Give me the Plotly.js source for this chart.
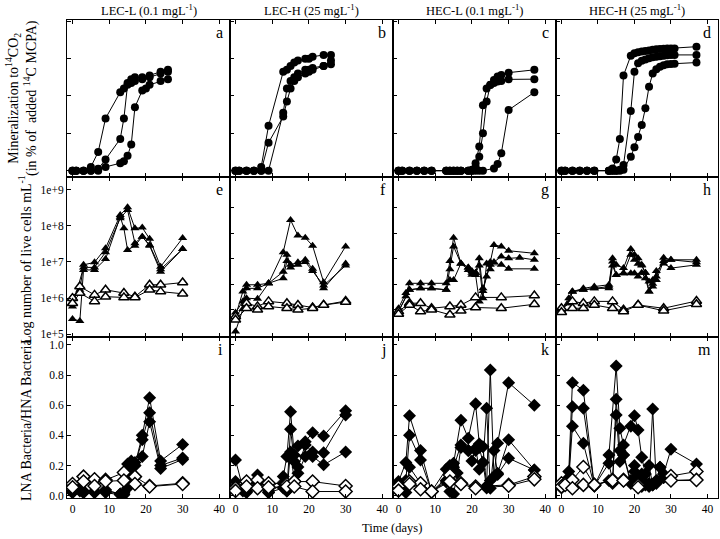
<!DOCTYPE html>
<html><head><meta charset="utf-8">
<script src="https://cdn.plot.ly/plotly-3.0.1.min.js"></script>
<style>html,body{margin:0;padding:0;background:#fff}#chart{width:720px;height:539px}</style>
</head><body><div id="chart"></div>
<script>
// ---------- Row 1: mineralization (% of added 14C MCPA) ----------
const aDays12 = [0,1,3,5,7,9,13,14,15,16,17,19,21,24,26];
const aMin1 = [0,0,0,2,10,28,42,44,47,49,50,50,51,53,54];
const aMin2 = [0,0,0,0,1,6,17,28,46,47,48,49,50,52,53];
const aDays3 = [0,1,3,5,7,9,13,14,15,16,17,19,20,21,24,26];
const aMin3 = [0,0,0,0,0,2,4,5,8,14,34,43,44,46,48,49];

const bDays = [0,1,3,5,7,9,13,14,15,16,17,19,20,21,24,26];
const bMin1 = [0,0,0,0,2,24,53,54,56,58,59,60,60,61,62,62];
const bMin2 = [0,0,0,0,0,15,29,37,44,48,50,52,53,54,56,59];
const bMin3 = [0,0,0,0,0,0,31,44,48,50,52,54,54,55,56,57];

const cDays12 = [0,1,3,5,7,9,13,14,15,16,17,19,20,21,22,23,24,25,26,27,28,30,37];
const cMin1 = [0,0,0,0,0,0,0,0,0,0,0,0,0.5,4,13,35,44,46,48.6,50.4,51.3,52.5,54];
const cMin2 = [0,0,0,0,0,0,0,0,0,0,0,0,0,2,7.5,20,37,45.9,47,47.7,48,48.9,49];
const cDays3 = [0,1,3,5,7,9,13,14,15,16,17,19,20,21,22,23,26,27,28,30,37];
const cMin3 = [0,0,0,0,0,0,0,0,0,0,0,0,0,0,0,0,1.2,3.6,9.3,32.5,42];

const dDays = [0,1,3,5,7,9,13,14,15,16,17,19,20,21,22,23,24,25,26,27,28,29,30,31,37];
const dMin1 = [0,0,0,0,0,0,0,1.2,6,17,51,61.6,62.9,63.4,63.8,64.1,64.4,64.7,65,65.2,65.3,65.4,65.5,65.5,66.4];
const dMin2 = [0,0,0,0,0,0,0,0,0,0.5,3,32,53,57.5,58.9,59.6,60.2,60.7,61,61.3,61.6,61.8,62,62,62];
const dMin3 = [0,0,0,0,0,0,0,0,0,0,0.5,7.5,12.5,18,24.5,33.4,45,52,54.3,55.7,56.5,57,57.1,57.3,57.9];

// ---------- Row 2: log10 live cells per mL ----------
const eDays1 = [0,2,3,6,9,13,15,17,19,21,24,30];
const eLog1 = [6.04,6.23,6.92,6.99,7.38,8.30,8.51,7.93,7.95,7.64,6.87,7.66];
const eDays2 = [0,3,6,9,13,15,17,19,21,24,30];
const eLog2 = [5.77,6.85,6.85,7.27,8.21,8.44,7.52,7.70,7.47,6.80,7.36];
const eDays3 = [0,2,3,6,9,13,14,15,17,19,21,24,30];
const eLog3 = [5.42,5.37,6.78,6.78,7.08,8.25,7.93,7.33,7.45,7.70,7.45,6.73,7.36];
const eoDays = [0,2,6,9,14,17,21,24,30];
const eoLog1 = [6.00,6.32,6.09,6.23,6.14,6.04,6.37,6.37,6.43];
const eoLog2 = [5.86,6.14,5.91,6.04,6.02,6.02,6.23,6.18,6.12];

const fDays1 = [0,2,3,6,9,13,15,17,19,21,24,30];
const fLog1 = [5.50,6.18,6.37,6.37,6.41,7.27,8.16,7.73,7.67,7.45,6.44,7.43];
const fDays23 = [0,2,3,6,9,13,14,15,17,19,21,24,30];
const fLog2 = [5.60,5.91,6.27,6.27,6.41,6.73,7.20,6.92,6.99,7.06,6.81,6.27,6.96];
const fLog3 = [5.08,5.70,6.00,5.98,6.41,6.55,7.03,6.85,6.92,7.00,6.75,6.35,6.90];
const foDays = [0,3,6,9,14,17,21,24,30];
const foLog1 = [5.49,5.86,5.77,5.91,5.86,5.81,5.74,5.81,5.92];
const foLog2 = [5.40,5.72,5.68,5.77,5.72,5.68,5.72,5.81,5.89];

const gDays1 = [0,2,3,6,9,13,14,15,17,19,20,21,22,23,25,26,28,30,37];
const gLog1 = [5.72,6.14,6.41,6.41,6.41,6.41,7.03,7.67,6.96,6.85,6.70,6.70,7.10,6.20,7.00,7.47,7.43,7.31,7.24];
const gDays2 = [0,2,3,6,9,13,14,15,17,19,20,21,22,23,24,25,26,28,30,33,37];
const gLog2 = [5.63,6.05,6.23,6.27,6.27,6.23,6.80,7.43,6.96,6.85,6.75,6.70,6.90,6.00,6.96,6.80,7.00,7.15,7.10,7.12,7.06];
const gDays3 = [0,3,6,9,13,14,15,17,19,20,21,22,23,24,25,28,30,37];
const gLog3 = [5.63,6.23,6.27,6.27,6.23,6.50,6.50,6.96,6.78,6.65,6.64,5.91,6.27,6.60,6.92,6.92,6.81,6.81];
const goDays = [0,3,6,9,14,17,21,28,37];
const goLog1 = [5.63,5.86,5.86,5.72,5.77,5.81,6.02,6.02,6.07];
const goLog2 = [5.56,5.81,5.63,5.68,5.54,5.65,5.74,5.72,5.83];

const hDays = [0,2,3,6,9,13,14,15,17,19,20,21,22,23,24,25,26,28,30,37];
const hLog1 = [5.74,5.86,6.18,6.27,6.32,6.37,7.10,6.92,6.83,7.36,7.20,7.10,6.92,6.70,6.46,6.50,6.60,7.12,7.06,7.06];
const hLog2 = [5.68,6.00,6.18,6.23,6.27,6.32,7.01,6.64,6.69,7.20,7.06,6.95,6.90,6.70,6.18,6.32,6.50,7.03,7.06,6.99];
const hLog3 = [5.68,5.86,6.18,6.23,6.27,6.27,6.90,6.64,6.69,6.69,6.69,6.60,6.70,6.55,6.18,6.40,6.75,6.96,6.83,6.92];
const hoDays = [0,3,6,9,14,17,21,28,37];
const hoLog1 = [5.72,5.91,5.86,5.91,5.91,5.68,5.81,5.72,5.92];
const hoLog2 = [5.61,5.72,5.72,5.81,5.72,5.63,5.81,5.65,5.83];

// ---------- Row 3: LNA/HNA ratio ----------
const iDays = [0,2,3,6,9,13,14,15,16,17,19,21,24,30];
const iRat1 = [0.02,0.038,0.03,0.03,0.038,0.01,0.02,0.21,0.23,0.20,0.40,0.65,0.23,0.34];
const iRat2 = [0.02,0.03,0.02,0.02,0.03,0.01,0.01,0.10,0.15,0.20,0.37,0.55,0.20,0.25];
const iRat3 = [0.03,0.04,0.02,0.02,0.02,0.005,0.005,0.05,0.18,0.22,0.26,0.49,0.18,0.24];
const ioDays = [0,3,6,9,14,17,21,30];
const ioRat1 = [0.077,0.126,0.108,0.104,0.153,0.126,0.064,0.082];
const ioRat2 = [0.055,0.093,0.064,0.095,0.10,0.077,0.060,0.077];

const jDays = [0,2,3,6,9,13,14,15,16,17,19,21,24,30];
const jRat1 = [0.237,0.05,0.03,0.137,0.03,0.126,0.26,0.557,0.27,0.33,0.358,0.418,0.396,0.564];
const jRat2 = [0.093,0.04,0.027,0.10,0.02,0.08,0.031,0.44,0.226,0.19,0.336,0.29,0.285,0.535];
const jRat3 = [0.06,0.03,0.02,0.08,0.02,0.05,0.03,0.29,0.10,0.148,0.26,0.26,0.204,0.29];
const joDays = [0,3,6,9,14,16,21,30];
const joRat1 = [0.05,0.093,0.104,0.082,0.077,0.093,0.093,0.064];
const joRat2 = [0.031,0.06,0.049,0.055,0.06,0.06,0.027,0.027];

const kDays1 = [0,2,3,6,9,13,14,15,17,19,21,22,23,24,25,26,27,30,37];
const kRat1 = [0.093,0.22,0.53,0.30,0.027,0.175,0.20,0.215,0.50,0.38,0.61,0.343,0.325,0.064,0.834,0.126,0.347,0.75,0.60];
const kDays2 = [0,2,3,6,9,13,14,15,17,19,20,21,22,23,24,25,26,27,30,37];
const kRat2 = [0.077,0.10,0.40,0.237,0.027,0.10,0.027,0.188,0.336,0.30,0.23,0.314,0.175,0.22,0.58,0.049,0.30,0.148,0.37,0.17];
const kDays3 = [0,2,3,6,9,13,15,16,17,19,21,22,23,24,25,27,30,37];
const kRat3 = [0.06,0.02,0.188,0.082,0.027,0.09,0.01,0.15,0.32,0.30,0.30,0.32,0.22,0.05,0.10,0.14,0.248,0.17];
const koDays = [0,3,6,9,14,17,21,30,37];
const koRat1 = [0.06,0.093,0.082,0.027,0.137,0.082,0.06,0.071,0.126];
const koRat2 = [0.033,0.077,0.042,0.027,0.093,0.077,0.049,0.065,0.108];

const mDays1 = [0,2,3,6,9,13,15,16,17,19,20,21,22,23,24,25,26,27,28,30,37];
const mRat1 = [0.08,0.16,0.75,0.70,0.064,0.27,0.86,0.447,0.336,0.46,0.53,0.436,0.254,0.144,0.08,0.575,0.08,0.188,0.144,0.307,0.21];
const mDays2 = [0,2,3,6,9,13,14,15,16,17,19,20,21,22,23,24,25,26,27,28,30,37];
const mRat2 = [0.07,0.12,0.59,0.58,0.064,0.215,0.10,0.64,0.30,0.27,0.08,0.20,0.12,0.144,0.08,0.20,0.07,0.10,0.188,0.12,0.10,0.104];
const mDays3 = [0,2,3,6,9,13,14,15,16,17,19,20,21,22,23,24,25,26,28,30,37];
const mRat3 = [0.05,0.10,0.46,0.347,0.064,0.10,0.08,0.535,0.226,0.27,0.10,0.16,0.10,0.06,0.07,0.06,0.07,0.09,0.12,0.10,0.10];
const moDays = [0,1,3,6,9,14,17,21,30,37];
const moRat1 = [0.082,0.08,0.104,0.19,0.071,0.104,0.104,0.071,0.13,0.16];
const moRat2 = [0.06,0.07,0.049,0.071,0.071,0.10,0.10,0.055,0.10,0.104];

// ---------- labels ----------
const colTitles = ['LEC-L (0.1 mgL<sup>-1</sup>)','LEC-H (25 mgL<sup>-1</sup>)','HEC-L (0.1 mgL<sup>-1</sup>)','HEC-H (25 mgL<sup>-1</sup>)'];
const panelLetters = ['a','b','c','d','e','f','g','h','i','j','k','m'];
const xTicks = [0,10,20,30,40];
const logTickVals = [1e5,1e6,1e7,1e8,1e9];
const logTickText = ['1e+5','1e+6','1e+7','1e+8','1e+9'];
const ratioTicks = [0,0.2,0.4,0.6,0.8,1.0];
const ratioTickText = ['0.0','0.2','0.4','0.6','0.8','1.0'];

// ---------- layout geometry (pixels) ----------
const W = 720, H = 539;
const cols = [[67,230],[230,393],[393,556],[556,718]];
const rows = [[20,177],[177,337],[337,498]];
const FONT = '"Liberation Serif", "Times New Roman", serif';

const pow10 = a => a.map(v => Math.pow(10, v));
const M = {
  circle: {symbol:'circle', size:8, color:'#000'},
  tri: {symbol:'triangle-up', size:8, color:'#000'},
  triOpen: {symbol:'triangle-up', size:9, color:'#fff', line:{color:'#000', width:1.5}},
  dia: {symbol:'diamond', size:10, color:'#000'},
  diaOpen: {symbol:'diamond', size:10, color:'#fff', line:{color:'#000', width:1.5}}
};
const traces = [];
function add(n, x, y, kind) {
  traces.push({
    type:'scatter', mode:'lines+markers', x:x, y:y,
    xaxis: 'x' + (n === 1 ? '' : n), yaxis: 'y' + (n === 1 ? '' : n),
    line:{color:'#000', width:1}, marker:M[kind], showlegend:false, hoverinfo:'skip'
  });
}
// row 1
add(1,aDays12,aMin1,'circle'); add(1,aDays12,aMin2,'circle'); add(1,aDays3,aMin3,'circle');
add(2,bDays,bMin1,'circle'); add(2,bDays,bMin2,'circle'); add(2,bDays,bMin3,'circle');
add(3,cDays12,cMin1,'circle'); add(3,cDays12,cMin2,'circle'); add(3,cDays3,cMin3,'circle');
add(4,dDays,dMin1,'circle'); add(4,dDays,dMin2,'circle'); add(4,dDays,dMin3,'circle');
// row 2
add(5,eDays1,pow10(eLog1),'tri'); add(5,eDays2,pow10(eLog2),'tri'); add(5,eDays3,pow10(eLog3),'tri');
add(5,eoDays,pow10(eoLog1),'triOpen'); add(5,eoDays,pow10(eoLog2),'triOpen');
add(6,fDays1,pow10(fLog1),'tri'); add(6,fDays23,pow10(fLog2),'tri'); add(6,fDays23,pow10(fLog3),'tri');
add(6,foDays,pow10(foLog1),'triOpen'); add(6,foDays,pow10(foLog2),'triOpen');
add(7,gDays1,pow10(gLog1),'tri'); add(7,gDays2,pow10(gLog2),'tri'); add(7,gDays3,pow10(gLog3),'tri');
add(7,goDays,pow10(goLog1),'triOpen'); add(7,goDays,pow10(goLog2),'triOpen');
add(8,hDays,pow10(hLog1),'tri'); add(8,hDays,pow10(hLog2),'tri'); add(8,hDays,pow10(hLog3),'tri');
add(8,hoDays,pow10(hoLog1),'triOpen'); add(8,hoDays,pow10(hoLog2),'triOpen');
// row 3
add(9,iDays,iRat1,'dia'); add(9,iDays,iRat2,'dia'); add(9,iDays,iRat3,'dia');
add(9,ioDays,ioRat1,'diaOpen'); add(9,ioDays,ioRat2,'diaOpen');
add(10,jDays,jRat1,'dia'); add(10,jDays,jRat2,'dia'); add(10,jDays,jRat3,'dia');
add(10,joDays,joRat1,'diaOpen'); add(10,joDays,joRat2,'diaOpen');
add(11,kDays1,kRat1,'dia'); add(11,kDays2,kRat2,'dia'); add(11,kDays3,kRat3,'dia');
add(11,koDays,koRat1,'diaOpen'); add(11,koDays,koRat2,'diaOpen');
add(12,mDays1,mRat1,'dia'); add(12,mDays2,mRat2,'dia'); add(12,mDays3,mRat3,'dia');
add(12,moDays,moRat1,'diaOpen'); add(12,moDays,moRat2,'diaOpen');

const layout = {
  width:W, height:H, margin:{l:0,r:0,t:0,b:0}, paper_bgcolor:'#fff', plot_bgcolor:'#fff',
  font:{family:FONT, size:12, color:'#000'}, showlegend:false, annotations:[]
};
const fLogTicks = [5.677,6.367,7.086,7.796,8.514].map(v => Math.pow(10, v));
for (let r = 0; r < 3; r++) {
  for (let c = 0; c < 4; c++) {
    const n = r*4 + c + 1;
    const sx = n === 1 ? '' : String(n);
    const base = {showline:true, linecolor:'#000', linewidth:1, mirror:true, ticks:'inside', ticklen:4,
      tickwidth:1, tickcolor:'#000', showgrid:false, zeroline:false,
      tickfont:{family:FONT, size:11.5, color:'#000'}};
    layout['xaxis'+sx] = Object.assign({}, base, {
      domain:[cols[c][0]/W, cols[c][1]/W], anchor:'y'+sx, range:[-1.5,42.9],
      tickvals:xTicks, ticktext:xTicks.map(String), mirror:'ticks', showticklabels: r === 2
    });
    const yb = Object.assign({}, base, {
      domain:[1 - rows[r][1]/H, 1 - rows[r][0]/H], anchor:'x'+sx
    });
    if (r === 0) {
      Object.assign(yb, {range:[-3.4,80.7], tickvals:[0,20,40,60,80], showticklabels:false});
    } else if (r === 1) {
      Object.assign(yb, {type:'log', range:[4.925,9.35],
        tickvals: c === 0 ? logTickVals : fLogTicks, showticklabels: c === 0});
      if (c === 0) yb.ticktext = logTickText;
    } else {
      Object.assign(yb, {range:[-0.016,1.053], tickvals:ratioTicks, ticktext:ratioTickText,
        showticklabels: c === 0});
    }
    layout['yaxis'+sx] = yb;
    layout.annotations.push({
      xref:'paper', yref:'paper', x:(cols[c][1]-5)/W, y:1-(rows[r][0]+2)/H,
      xanchor:'right', yanchor:'top', text:panelLetters[n-1], showarrow:false,
      font:{family:FONT, size:16, color:'#000'}
    });
  }
}
for (let c = 0; c < 4; c++) {
  layout.annotations.push({
    xref:'paper', yref:'paper', x:(cols[c][0]+cols[c][1])/2/W, y:1-10/H,
    xanchor:'center', yanchor:'middle', text:colTitles[c], showarrow:false,
    font:{family:FONT, size:12.5, color:'#000'}
  });
}
layout.annotations.push(
  {xref:'paper', yref:'paper', x:21/W, y:1-98/H, xanchor:'center', yanchor:'middle', textangle:-90,
   text:'Mineralization to<sup>14</sup>CO<sub>2</sub><br>(in % of  added <sup>14</sup>C MCPA)', showarrow:false,
   font:{family:FONT, size:14, color:'#000'}},
  {xref:'paper', yref:'paper', x:25/W, y:1-260/H, xanchor:'center', yanchor:'middle', textangle:-90,
   text:'Log number of live cells mL<sup>-1</sup>', showarrow:false, font:{family:FONT, size:14, color:'#000'}},
  {xref:'paper', yref:'paper', x:26/W, y:1-420/H, xanchor:'center', yanchor:'middle', textangle:-90,
   text:'LNA Bacteria/HNA Bacteria', showarrow:false, font:{family:FONT, size:14, color:'#000'}},
  {xref:'paper', yref:'paper', x:392/W, y:1-528/H, xanchor:'center', yanchor:'middle',
   text:'Time (days)', showarrow:false, font:{family:FONT, size:12.5, color:'#000'}}
);
Plotly.newPlot('chart', traces, layout, {displayModeBar:false, staticPlot:true});
</script>
</body></html>
